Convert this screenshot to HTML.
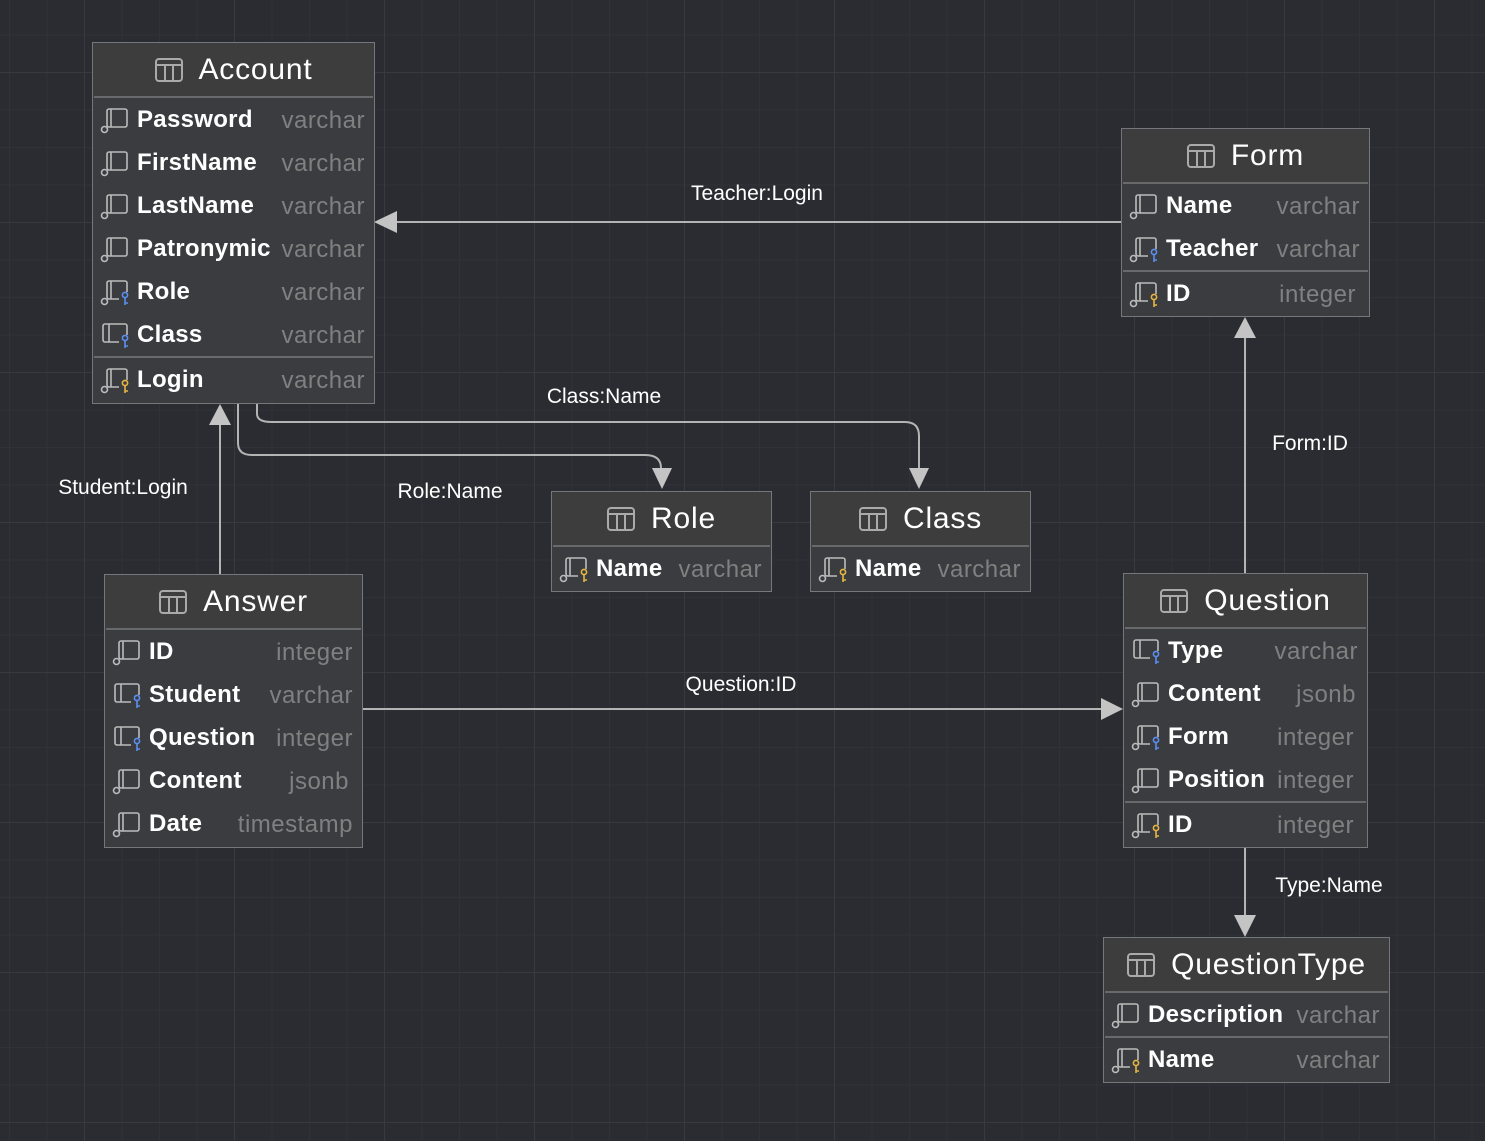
<!DOCTYPE html>
<html><head><meta charset="utf-8">
<style>
html,body{margin:0;padding:0}
body{width:1485px;height:1141px;position:relative;overflow:hidden;background-color:#2b2c31;
background-image:
linear-gradient(#393a3f 1px,transparent 1px),
linear-gradient(90deg,#393a3f 1px,transparent 1px),
linear-gradient(#313237 1px,transparent 1px),
linear-gradient(90deg,#313237 1px,transparent 1px);
background-size:150px 150px,150px 150px,37.5px 37.5px,37.5px 37.5px;
background-position:0 72px,84px 0,0 -3px,9px 0;
font-family:"Liberation Sans",sans-serif;}
.t{position:absolute;background:#3a3c3f;border:1px solid #76777a;box-sizing:border-box;padding:1px}
.h{height:52px;background:#3d3d3e;border-bottom:2px solid #68696b;display:flex;align-items:center;justify-content:center;color:#fff;font-size:30px;letter-spacing:0.8px}
.h svg{margin-right:16px}
.r{height:43px;position:relative;color:#fff}
.r svg{position:absolute;left:6px;top:8px}
.n{position:absolute;left:43px;top:8px;font-size:24px;font-weight:bold;letter-spacing:0.3px;white-space:nowrap;overflow:hidden}
.ty{position:absolute;right:8px;top:9px;font-size:24px;color:#808080;letter-spacing:0.5px}
.s{height:2px;background:#68696b}
.lbl{position:absolute;color:#fff;font-size:21px;white-space:nowrap;transform:translateX(-50%)}
</style></head><body>
<svg width="1485" height="1141" style="position:absolute;left:0;top:0">
<g stroke="#b4b4b4" stroke-width="2" fill="none">
<line x1="1121" y1="222" x2="396" y2="222"/>
<line x1="220" y1="574" x2="220" y2="424"/>
<path d="M238 403 V443 Q238 455 252 455 H645 Q661 455 661 468"/>
<path d="M257 403 V414 Q257 422 272 422 H905 Q919 422 919 436 V469"/>
<line x1="362" y1="709" x2="1101" y2="709"/>
<line x1="1245" y1="573" x2="1245" y2="338"/>
<line x1="1245" y1="847" x2="1245" y2="915"/>
</g>
<g fill="#c4c4c4">
<polygon points="374,222 397,211 397,233"/>
<polygon points="220,404 209,425 231,425"/>
<polygon points="662,489 652,468 672,468"/>
<polygon points="919,489 909,468 929,468"/>
<polygon points="1123,709 1101,698 1101,720"/>
<polygon points="1245,317 1234,338 1256,338"/>
<polygon points="1245,937 1234,915 1256,915"/>
</g>
</svg>
<div class="lbl" style="left:757px;top:182px">Teacher:Login</div>
<div class="lbl" style="left:604px;top:385px">Class:Name</div>
<div class="lbl" style="left:450px;top:480px">Role:Name</div>
<div class="lbl" style="left:123px;top:476px">Student:Login</div>
<div class="lbl" style="left:741px;top:673px">Question:ID</div>
<div class="lbl" style="left:1310px;top:432px">Form:ID</div>
<div class="lbl" style="left:1329px;top:874px">Type:Name</div>

<div class="t" style="left:92px;top:42px;width:283px;height:362px">
<div class="h"><svg width="28" height="24"><rect x="1" y="1" width="26" height="22" rx="3" fill="none" stroke="#aaa" stroke-width="2"/><line x1="1" y1="7" x2="27" y2="7" stroke="#aaa" stroke-width="2"/><line x1="10" y1="7" x2="10" y2="23" stroke="#aaa" stroke-width="2"/><line x1="18" y1="7" x2="18" y2="23" stroke="#aaa" stroke-width="2"/></svg>Account</div>
<div class="r"><svg width="30" height="28"><rect x="7" y="3" width="20" height="18" rx="2" fill="none" stroke="#bbb" stroke-width="1.6"/><line x1="11" y1="3" x2="11" y2="21" stroke="#bbb" stroke-width="1.6"/><circle cx="4.5" cy="23.5" r="3" fill="#3a3c3f" stroke="#bbb" stroke-width="1.6"/></svg><span class="n">Password</span><span class="ty">varchar</span></div>
<div class="r"><svg width="30" height="28"><rect x="7" y="3" width="20" height="18" rx="2" fill="none" stroke="#bbb" stroke-width="1.6"/><line x1="11" y1="3" x2="11" y2="21" stroke="#bbb" stroke-width="1.6"/><circle cx="4.5" cy="23.5" r="3" fill="#3a3c3f" stroke="#bbb" stroke-width="1.6"/></svg><span class="n">FirstName</span><span class="ty">varchar</span></div>
<div class="r"><svg width="30" height="28"><rect x="7" y="3" width="20" height="18" rx="2" fill="none" stroke="#bbb" stroke-width="1.6"/><line x1="11" y1="3" x2="11" y2="21" stroke="#bbb" stroke-width="1.6"/><circle cx="4.5" cy="23.5" r="3" fill="#3a3c3f" stroke="#bbb" stroke-width="1.6"/></svg><span class="n">LastName</span><span class="ty">varchar</span></div>
<div class="r"><svg width="30" height="28"><rect x="7" y="3" width="20" height="18" rx="2" fill="none" stroke="#bbb" stroke-width="1.6"/><line x1="11" y1="3" x2="11" y2="21" stroke="#bbb" stroke-width="1.6"/><circle cx="4.5" cy="23.5" r="3" fill="#3a3c3f" stroke="#bbb" stroke-width="1.6"/></svg><span class="n" style="width:133px">Patronymic</span><span class="ty">varchar</span></div>
<div class="r"><svg width="30" height="28"><rect x="7" y="3" width="20" height="18" rx="2" fill="none" stroke="#bbb" stroke-width="1.6"/><line x1="11" y1="3" x2="11" y2="21" stroke="#bbb" stroke-width="1.6"/><circle cx="4.5" cy="23.5" r="3" fill="#3a3c3f" stroke="#bbb" stroke-width="1.6"/><rect x="19" y="14" width="11" height="14" fill="#3a3c3f"/><circle cx="25" cy="17" r="2.6" fill="none" stroke="#5b8ff0" stroke-width="1.6"/><path d="M25 19.6 V27 M25 25 H28" stroke="#5b8ff0" stroke-width="1.6" fill="none"/></svg><span class="n">Role</span><span class="ty">varchar</span></div>
<div class="r"><svg width="30" height="28"><rect x="3" y="3" width="24" height="18" rx="2" fill="none" stroke="#bbb" stroke-width="1.6"/><line x1="9" y1="3" x2="9" y2="21" stroke="#bbb" stroke-width="1.6"/><rect x="19" y="14" width="11" height="14" fill="#3a3c3f"/><circle cx="25" cy="17" r="2.6" fill="none" stroke="#5b8ff0" stroke-width="1.6"/><path d="M25 19.6 V27 M25 25 H28" stroke="#5b8ff0" stroke-width="1.6" fill="none"/></svg><span class="n">Class</span><span class="ty">varchar</span></div>
<div class="s"></div>
<div class="r"><svg width="30" height="28"><rect x="7" y="3" width="20" height="18" rx="2" fill="none" stroke="#bbb" stroke-width="1.6"/><line x1="11" y1="3" x2="11" y2="21" stroke="#bbb" stroke-width="1.6"/><circle cx="4.5" cy="23.5" r="3" fill="#3a3c3f" stroke="#bbb" stroke-width="1.6"/><rect x="19" y="14" width="11" height="14" fill="#3a3c3f"/><circle cx="25" cy="17" r="2.6" fill="none" stroke="#e6b543" stroke-width="1.6"/><path d="M25 19.6 V27 M25 25 H28" stroke="#e6b543" stroke-width="1.6" fill="none"/></svg><span class="n">Login</span><span class="ty">varchar</span></div>
</div>

<div class="t" style="left:1121px;top:128px;width:249px;height:189px">
<div class="h"><svg width="28" height="24"><rect x="1" y="1" width="26" height="22" rx="3" fill="none" stroke="#aaa" stroke-width="2"/><line x1="1" y1="7" x2="27" y2="7" stroke="#aaa" stroke-width="2"/><line x1="10" y1="7" x2="10" y2="23" stroke="#aaa" stroke-width="2"/><line x1="18" y1="7" x2="18" y2="23" stroke="#aaa" stroke-width="2"/></svg>Form</div>
<div class="r"><svg width="30" height="28"><rect x="7" y="3" width="20" height="18" rx="2" fill="none" stroke="#bbb" stroke-width="1.6"/><line x1="11" y1="3" x2="11" y2="21" stroke="#bbb" stroke-width="1.6"/><circle cx="4.5" cy="23.5" r="3" fill="#3a3c3f" stroke="#bbb" stroke-width="1.6"/></svg><span class="n">Name</span><span class="ty">varchar</span></div>
<div class="r"><svg width="30" height="28"><rect x="7" y="3" width="20" height="18" rx="2" fill="none" stroke="#bbb" stroke-width="1.6"/><line x1="11" y1="3" x2="11" y2="21" stroke="#bbb" stroke-width="1.6"/><circle cx="4.5" cy="23.5" r="3" fill="#3a3c3f" stroke="#bbb" stroke-width="1.6"/><rect x="19" y="14" width="11" height="14" fill="#3a3c3f"/><circle cx="25" cy="17" r="2.6" fill="none" stroke="#5b8ff0" stroke-width="1.6"/><path d="M25 19.6 V27 M25 25 H28" stroke="#5b8ff0" stroke-width="1.6" fill="none"/></svg><span class="n">Teacher</span><span class="ty">varchar</span></div>
<div class="s"></div>
<div class="r"><svg width="30" height="28"><rect x="7" y="3" width="20" height="18" rx="2" fill="none" stroke="#bbb" stroke-width="1.6"/><line x1="11" y1="3" x2="11" y2="21" stroke="#bbb" stroke-width="1.6"/><circle cx="4.5" cy="23.5" r="3" fill="#3a3c3f" stroke="#bbb" stroke-width="1.6"/><rect x="19" y="14" width="11" height="14" fill="#3a3c3f"/><circle cx="25" cy="17" r="2.6" fill="none" stroke="#e6b543" stroke-width="1.6"/><path d="M25 19.6 V27 M25 25 H28" stroke="#e6b543" stroke-width="1.6" fill="none"/></svg><span class="n">ID</span><span class="ty" style="right:12px">integer</span></div>
</div>

<div class="t" style="left:551px;top:491px;width:221px;height:101px">
<div class="h"><svg width="28" height="24"><rect x="1" y="1" width="26" height="22" rx="3" fill="none" stroke="#aaa" stroke-width="2"/><line x1="1" y1="7" x2="27" y2="7" stroke="#aaa" stroke-width="2"/><line x1="10" y1="7" x2="10" y2="23" stroke="#aaa" stroke-width="2"/><line x1="18" y1="7" x2="18" y2="23" stroke="#aaa" stroke-width="2"/></svg>Role</div>
<div class="r"><svg width="30" height="28"><rect x="7" y="3" width="20" height="18" rx="2" fill="none" stroke="#bbb" stroke-width="1.6"/><line x1="11" y1="3" x2="11" y2="21" stroke="#bbb" stroke-width="1.6"/><circle cx="4.5" cy="23.5" r="3" fill="#3a3c3f" stroke="#bbb" stroke-width="1.6"/><rect x="19" y="14" width="11" height="14" fill="#3a3c3f"/><circle cx="25" cy="17" r="2.6" fill="none" stroke="#e6b543" stroke-width="1.6"/><path d="M25 19.6 V27 M25 25 H28" stroke="#e6b543" stroke-width="1.6" fill="none"/></svg><span class="n">Name</span><span class="ty">varchar</span></div>
</div>

<div class="t" style="left:810px;top:491px;width:221px;height:101px">
<div class="h"><svg width="28" height="24"><rect x="1" y="1" width="26" height="22" rx="3" fill="none" stroke="#aaa" stroke-width="2"/><line x1="1" y1="7" x2="27" y2="7" stroke="#aaa" stroke-width="2"/><line x1="10" y1="7" x2="10" y2="23" stroke="#aaa" stroke-width="2"/><line x1="18" y1="7" x2="18" y2="23" stroke="#aaa" stroke-width="2"/></svg>Class</div>
<div class="r"><svg width="30" height="28"><rect x="7" y="3" width="20" height="18" rx="2" fill="none" stroke="#bbb" stroke-width="1.6"/><line x1="11" y1="3" x2="11" y2="21" stroke="#bbb" stroke-width="1.6"/><circle cx="4.5" cy="23.5" r="3" fill="#3a3c3f" stroke="#bbb" stroke-width="1.6"/><rect x="19" y="14" width="11" height="14" fill="#3a3c3f"/><circle cx="25" cy="17" r="2.6" fill="none" stroke="#e6b543" stroke-width="1.6"/><path d="M25 19.6 V27 M25 25 H28" stroke="#e6b543" stroke-width="1.6" fill="none"/></svg><span class="n">Name</span><span class="ty">varchar</span></div>
</div>

<div class="t" style="left:104px;top:574px;width:259px;height:274px">
<div class="h"><svg width="28" height="24"><rect x="1" y="1" width="26" height="22" rx="3" fill="none" stroke="#aaa" stroke-width="2"/><line x1="1" y1="7" x2="27" y2="7" stroke="#aaa" stroke-width="2"/><line x1="10" y1="7" x2="10" y2="23" stroke="#aaa" stroke-width="2"/><line x1="18" y1="7" x2="18" y2="23" stroke="#aaa" stroke-width="2"/></svg>Answer</div>
<div class="r"><svg width="30" height="28"><rect x="7" y="3" width="20" height="18" rx="2" fill="none" stroke="#bbb" stroke-width="1.6"/><line x1="11" y1="3" x2="11" y2="21" stroke="#bbb" stroke-width="1.6"/><circle cx="4.5" cy="23.5" r="3" fill="#3a3c3f" stroke="#bbb" stroke-width="1.6"/></svg><span class="n">ID</span><span class="ty">integer</span></div>
<div class="r"><svg width="30" height="28"><rect x="3" y="3" width="24" height="18" rx="2" fill="none" stroke="#bbb" stroke-width="1.6"/><line x1="9" y1="3" x2="9" y2="21" stroke="#bbb" stroke-width="1.6"/><rect x="19" y="14" width="11" height="14" fill="#3a3c3f"/><circle cx="25" cy="17" r="2.6" fill="none" stroke="#5b8ff0" stroke-width="1.6"/><path d="M25 19.6 V27 M25 25 H28" stroke="#5b8ff0" stroke-width="1.6" fill="none"/></svg><span class="n">Student</span><span class="ty">varchar</span></div>
<div class="r"><svg width="30" height="28"><rect x="3" y="3" width="24" height="18" rx="2" fill="none" stroke="#bbb" stroke-width="1.6"/><line x1="9" y1="3" x2="9" y2="21" stroke="#bbb" stroke-width="1.6"/><rect x="19" y="14" width="11" height="14" fill="#3a3c3f"/><circle cx="25" cy="17" r="2.6" fill="none" stroke="#5b8ff0" stroke-width="1.6"/><path d="M25 19.6 V27 M25 25 H28" stroke="#5b8ff0" stroke-width="1.6" fill="none"/></svg><span class="n">Question</span><span class="ty">integer</span></div>
<div class="r"><svg width="30" height="28"><rect x="7" y="3" width="20" height="18" rx="2" fill="none" stroke="#bbb" stroke-width="1.6"/><line x1="11" y1="3" x2="11" y2="21" stroke="#bbb" stroke-width="1.6"/><circle cx="4.5" cy="23.5" r="3" fill="#3a3c3f" stroke="#bbb" stroke-width="1.6"/></svg><span class="n">Content</span><span class="ty" style="right:12px">jsonb</span></div>
<div class="r"><svg width="30" height="28"><rect x="7" y="3" width="20" height="18" rx="2" fill="none" stroke="#bbb" stroke-width="1.6"/><line x1="11" y1="3" x2="11" y2="21" stroke="#bbb" stroke-width="1.6"/><circle cx="4.5" cy="23.5" r="3" fill="#3a3c3f" stroke="#bbb" stroke-width="1.6"/></svg><span class="n">Date</span><span class="ty">timestamp</span></div>
</div>

<div class="t" style="left:1123px;top:573px;width:245px;height:275px">
<div class="h"><svg width="28" height="24"><rect x="1" y="1" width="26" height="22" rx="3" fill="none" stroke="#aaa" stroke-width="2"/><line x1="1" y1="7" x2="27" y2="7" stroke="#aaa" stroke-width="2"/><line x1="10" y1="7" x2="10" y2="23" stroke="#aaa" stroke-width="2"/><line x1="18" y1="7" x2="18" y2="23" stroke="#aaa" stroke-width="2"/></svg>Question</div>
<div class="r"><svg width="30" height="28"><rect x="3" y="3" width="24" height="18" rx="2" fill="none" stroke="#bbb" stroke-width="1.6"/><line x1="9" y1="3" x2="9" y2="21" stroke="#bbb" stroke-width="1.6"/><rect x="19" y="14" width="11" height="14" fill="#3a3c3f"/><circle cx="25" cy="17" r="2.6" fill="none" stroke="#5b8ff0" stroke-width="1.6"/><path d="M25 19.6 V27 M25 25 H28" stroke="#5b8ff0" stroke-width="1.6" fill="none"/></svg><span class="n">Type</span><span class="ty">varchar</span></div>
<div class="r"><svg width="30" height="28"><rect x="7" y="3" width="20" height="18" rx="2" fill="none" stroke="#bbb" stroke-width="1.6"/><line x1="11" y1="3" x2="11" y2="21" stroke="#bbb" stroke-width="1.6"/><circle cx="4.5" cy="23.5" r="3" fill="#3a3c3f" stroke="#bbb" stroke-width="1.6"/></svg><span class="n">Content</span><span class="ty" style="right:10px">jsonb</span></div>
<div class="r"><svg width="30" height="28"><rect x="7" y="3" width="20" height="18" rx="2" fill="none" stroke="#bbb" stroke-width="1.6"/><line x1="11" y1="3" x2="11" y2="21" stroke="#bbb" stroke-width="1.6"/><circle cx="4.5" cy="23.5" r="3" fill="#3a3c3f" stroke="#bbb" stroke-width="1.6"/><rect x="19" y="14" width="11" height="14" fill="#3a3c3f"/><circle cx="25" cy="17" r="2.6" fill="none" stroke="#5b8ff0" stroke-width="1.6"/><path d="M25 19.6 V27 M25 25 H28" stroke="#5b8ff0" stroke-width="1.6" fill="none"/></svg><span class="n">Form</span><span class="ty" style="right:12px">integer</span></div>
<div class="r"><svg width="30" height="28"><rect x="7" y="3" width="20" height="18" rx="2" fill="none" stroke="#bbb" stroke-width="1.6"/><line x1="11" y1="3" x2="11" y2="21" stroke="#bbb" stroke-width="1.6"/><circle cx="4.5" cy="23.5" r="3" fill="#3a3c3f" stroke="#bbb" stroke-width="1.6"/></svg><span class="n">Position</span><span class="ty" style="right:12px">integer</span></div>
<div class="s"></div>
<div class="r"><svg width="30" height="28"><rect x="7" y="3" width="20" height="18" rx="2" fill="none" stroke="#bbb" stroke-width="1.6"/><line x1="11" y1="3" x2="11" y2="21" stroke="#bbb" stroke-width="1.6"/><circle cx="4.5" cy="23.5" r="3" fill="#3a3c3f" stroke="#bbb" stroke-width="1.6"/><rect x="19" y="14" width="11" height="14" fill="#3a3c3f"/><circle cx="25" cy="17" r="2.6" fill="none" stroke="#e6b543" stroke-width="1.6"/><path d="M25 19.6 V27 M25 25 H28" stroke="#e6b543" stroke-width="1.6" fill="none"/></svg><span class="n">ID</span><span class="ty" style="right:12px">integer</span></div>
</div>

<div class="t" style="left:1103px;top:937px;width:287px;height:146px">
<div class="h"><svg width="28" height="24"><rect x="1" y="1" width="26" height="22" rx="3" fill="none" stroke="#aaa" stroke-width="2"/><line x1="1" y1="7" x2="27" y2="7" stroke="#aaa" stroke-width="2"/><line x1="10" y1="7" x2="10" y2="23" stroke="#aaa" stroke-width="2"/><line x1="18" y1="7" x2="18" y2="23" stroke="#aaa" stroke-width="2"/></svg>QuestionType</div>
<div class="r"><svg width="30" height="28"><rect x="7" y="3" width="20" height="18" rx="2" fill="none" stroke="#bbb" stroke-width="1.6"/><line x1="11" y1="3" x2="11" y2="21" stroke="#bbb" stroke-width="1.6"/><circle cx="4.5" cy="23.5" r="3" fill="#3a3c3f" stroke="#bbb" stroke-width="1.6"/></svg><span class="n" style="width:134px">Description</span><span class="ty">varchar</span></div>
<div class="s"></div>
<div class="r"><svg width="30" height="28"><rect x="7" y="3" width="20" height="18" rx="2" fill="none" stroke="#bbb" stroke-width="1.6"/><line x1="11" y1="3" x2="11" y2="21" stroke="#bbb" stroke-width="1.6"/><circle cx="4.5" cy="23.5" r="3" fill="#3a3c3f" stroke="#bbb" stroke-width="1.6"/><rect x="19" y="14" width="11" height="14" fill="#3a3c3f"/><circle cx="25" cy="17" r="2.6" fill="none" stroke="#e6b543" stroke-width="1.6"/><path d="M25 19.6 V27 M25 25 H28" stroke="#e6b543" stroke-width="1.6" fill="none"/></svg><span class="n">Name</span><span class="ty">varchar</span></div>
</div>
</body></html>
